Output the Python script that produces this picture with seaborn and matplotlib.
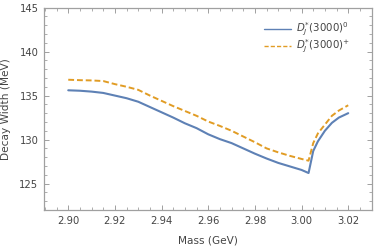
import matplotlib
matplotlib.use("Agg")
import matplotlib.pyplot as plt
from matplotlib.ticker import MultipleLocator, FormatStrFormatter
import seaborn as sns
import pandas as pd

mass = [2.900, 2.905, 2.910, 2.915, 2.920, 2.925, 2.930, 2.935, 2.940, 2.945,
        2.950, 2.955, 2.960, 2.965, 2.970, 2.975, 2.980, 2.985, 2.990, 2.995,
        3.000, 3.003, 3.005, 3.007, 3.010, 3.013, 3.016, 3.020]
width_neutral = [135.6, 135.55, 135.45, 135.3, 135.0, 134.7, 134.3, 133.7, 133.1, 132.5,
                 131.85, 131.3, 130.6, 130.05, 129.6, 129.0, 128.4, 127.85, 127.35, 126.95,
                 126.55, 126.2, 128.7, 129.8, 131.0, 131.9, 132.5, 133.0]
width_charged = [136.8, 136.75, 136.72, 136.65, 136.3, 136.0, 135.65, 135.0, 134.4, 133.8,
                 133.25, 132.7, 132.05, 131.55, 131.0, 130.35, 129.7, 129.0, 128.55, 128.15,
                 127.8, 127.6, 129.6, 130.7, 131.7, 132.7, 133.3, 133.9]
labels = [r"$D_J^{*}(3000)^0$", r"$D_J^{*}(3000)^{+}$"]

sns.set_style("ticks")
plt.rcParams['font.family'] = ['DejaVu Sans']

fig = plt.figure(figsize=(3.74, 2.52), dpi=100)
ax = fig.add_axes([0.1176, 0.1667, 0.8771, 0.8033])

df0 = pd.DataFrame({"mass": mass, "width": width_neutral})
df1 = pd.DataFrame({"mass": mass, "width": width_charged})
sns.lineplot(data=df0, x="mass", y="width", ax=ax, color="#5E81B5", lw=1.5,
             label=labels[0])
sns.lineplot(data=df1, x="mass", y="width", ax=ax, color="#E19C24", lw=1.4,
             linestyle=(0, (3, 1.5)), label=labels[1])

ax.set_xlim(2.8896, 3.0302)
ax.set_ylim(122, 145)
ax.xaxis.set_major_locator(MultipleLocator(0.02))
ax.xaxis.set_minor_locator(MultipleLocator(0.005))
ax.yaxis.set_major_locator(MultipleLocator(5))
ax.yaxis.set_minor_locator(MultipleLocator(1))
ax.xaxis.set_major_formatter(FormatStrFormatter("%.2f"))
ax.yaxis.set_major_formatter(FormatStrFormatter("%d"))

frame_col = "#a0a0a0"
for s in ax.spines.values():
    s.set_color(frame_col)
    s.set_linewidth(0.9)
ax.tick_params(which="both", direction="in", top=True, right=True,
               color=frame_col, labelcolor="#444444", labelsize=7.2, pad=4)
ax.tick_params(which="major", length=3.5, width=0.7)
ax.tick_params(which="minor", length=2, width=0.6)

ax.set_xlabel("Mass (GeV)", fontsize=7.6, color="#444444", labelpad=7)
ax.set_ylabel("Decay Width (MeV)", fontsize=7.6, color="#444444", labelpad=6)

leg = ax.legend(loc="upper right", frameon=False, fontsize=7.4, handlelength=2.7,
                handletextpad=0.45, labelspacing=-0.05, borderpad=0.2,
                bbox_to_anchor=(0.955, 0.97))
for t in leg.get_texts():
    t.set_color("#444444")
for h in leg.get_lines():
    h.set_linewidth(1.0)

fig.savefig("out.png", dpi=100)
